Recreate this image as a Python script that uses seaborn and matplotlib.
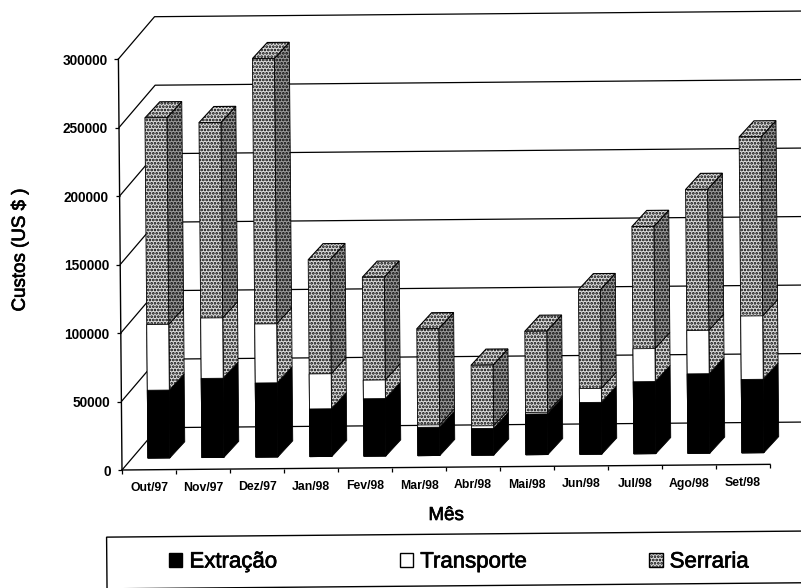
import numpy as np
import pandas as pd
import matplotlib
matplotlib.use("Agg")
import matplotlib.pyplot as plt
import matplotlib.patheffects as pe
from matplotlib.patches import Patch, Rectangle
from matplotlib.transforms import Affine2D
import seaborn as sns

meses = ["Out/97", "Nov/97", "Dez/97", "Jan/98", "Fev/98", "Mar/98",
         "Abr/98", "Mai/98", "Jun/98", "Jul/98", "Ago/98", "Set/98"]
extracao = np.array([49500, 57800, 54100, 34800, 41900, 20700,
                     19500, 29700, 37800, 52600, 58000, 53600])
transporte = np.array([48000, 44100, 43100, 25600, 13600, 1700,
                       1900, 1200, 10200, 24100, 31700, 46300])
serraria = np.array([150800, 142600, 193700, 83300, 75100, 70200,
                     44300, 59200, 72100, 89200, 102900, 130700])
y_ticks = [0, 50000, 100000, 150000, 200000, 250000, 300000]

W, H = 801, 588
sns.set_theme(style="white")
plt.rcParams["font.family"] = ["Liberation Sans", "DejaVu Sans"]
plt.rcParams["hatch.linewidth"] = 1.3
fig = plt.figure(figsize=(W / 100, H / 100), dpi=100, facecolor="white")
ax = fig.add_axes([122 / W, (H - 470) / H, 648 / W, 411 / H])
ax.patch.set_visible(False)

# slight tilt of the scanned page, about the chart origin
rot = Affine2D().rotate_deg_around(122, H - 470, 0.5)
PX_X, PX_Y = 1 / 54, 300000 / 411       # data units per pixel
data_tf = ax.transData + rot
bar_tf = Affine2D().translate(10 * PX_X, 11.7 * PX_Y) + data_tf

# walls
wall_dx, wall_dy = 36.5 * PX_X, 42 * PX_Y
for v in y_ticks:
    ax.plot([-0.5, -0.5 + wall_dx, 13], [v, v + wall_dy, v + wall_dy],
            color="black", lw=0.9, transform=data_tf, clip_on=False, zorder=1)

# stacked front faces, painted back to front from cumulative totals
topo_ext = extracao
topo_tra = extracao + transporte
topo_ser = topo_tra + serraria
df = pd.DataFrame({"Mes": meses, "ext": topo_ext, "tra": topo_tra, "ser": topo_ser})
BW = 22 * PX_X
LIGHT, DARK = "#dcdcdc", "#9a9a9a"
common = dict(data=df, x="Mes", width=BW, saturation=1, ax=ax, zorder=3)
sns.barplot(y="ser", color=LIGHT, edgecolor="black", linewidth=0.6, hatch=".....", **common)
sns.barplot(y="tra", color="white", edgecolor="black", linewidth=0.6, **common)
sns.barplot(y="ext", color="black", edgecolor="black", linewidth=0.6, **common)
for p in ax.patches:
    p.set_transform(bar_tf)
    p.set_clip_on(False)

# side and top faces
dx, dy = 15 * PX_X, 16 * PX_Y
for i in range(len(meses)):
    xr = i + BW / 2
    xl = i - BW / 2
    segs = [(0, topo_ext[i], dict(facecolor="black", edgecolor="black")),
            (topo_ext[i], topo_tra[i], dict(facecolor=LIGHT, edgecolor="black", hatch=".....")),
            (topo_tra[i], topo_ser[i], dict(facecolor=DARK, edgecolor="black", hatch="....."))]
    for lo, hi, st in segs:
        ax.fill([xr, xr + dx, xr + dx, xr], [lo, lo + dy, hi + dy, hi],
                transform=bar_tf, clip_on=False, zorder=2.5, lw=0.6, **st)
    ax.fill([xl, xl + dx, xr + dx, xr],
            [topo_ser[i], topo_ser[i] + dy, topo_ser[i] + dy, topo_ser[i]],
            transform=bar_tf, clip_on=False, zorder=2.5, lw=0.8,
            facecolor=LIGHT, edgecolor="black", hatch=".....")

# axes
ax.set_xlim(-0.5, 11.5)
ax.set_ylim(0, 300000)
ax.set_yticks(y_ticks)
ax.set_yticklabels([str(v) for v in y_ticks])
ax.set_xticks(np.arange(-0.5, 12, 1), minor=True)
ax.tick_params(axis="x", which="major", length=0, pad=9, labelsize=8.8, bottom=True)
ax.tick_params(axis="x", which="minor", length=3.2, width=0.9, color="black", bottom=True)
ax.tick_params(axis="y", which="major", length=3, width=0.9, color="black", pad=5,
               labelsize=9.8, left=True)
for lab in ax.get_xticklabels() + ax.get_yticklabels():
    lab.set_color("black")
    lab.set_fontweight("bold")
for s in ["top", "right"]:
    ax.spines[s].set_visible(False)
for s in ["left", "bottom"]:
    ax.spines[s].set_color("black")
    ax.spines[s].set_linewidth(1.0)
    ax.spines[s].set_transform(ax.spines[s].get_transform() + rot)

heavy = [pe.withStroke(linewidth=0.5, foreground="black")]
ax.set_xlabel("Mês", fontsize=13.5, color="black", path_effects=heavy)
ax.set_ylabel("Custos (US $ )", fontsize=13.5, color="black", path_effects=heavy)
ax.xaxis.set_label_coords(0.5, -0.09)
ax.yaxis.set_label_coords(-0.144, 0.535)

# tilt the tick marks and labels with the page
ticks = ax.xaxis.get_major_ticks() + ax.xaxis.get_minor_ticks() + ax.yaxis.get_major_ticks()
for t in ticks:
    for art in (t.tick1line, t.label1):
        art.set_transform(art.get_transform() + rot)

# legend box runs off the right of the page
fig.add_artist(Rectangle((106, -0.7), 800, 51.7, transform=rot, facecolor="none",
                         edgecolor="black", lw=1.0, clip_on=False))
handles = [Patch(facecolor="black", edgecolor="black", label="Extração"),
           Patch(facecolor="white", edgecolor="black", label="Transporte"),
           Patch(facecolor=LIGHT, edgecolor="black", hatch=".....", label="Serraria")]
leg = fig.legend(handles=handles, ncol=3, frameon=False, fontsize=16,
                 loc="center left", bbox_to_anchor=(169 / W, (H - 562) / H),
                 borderpad=0, borderaxespad=0, handlelength=0.6, handleheight=0.6,
                 handletextpad=0.32, columnspacing=5.5, labelcolor="black")
for txt in leg.get_texts():
    txt.set_path_effects(heavy)

fig.savefig("out.png", dpi=100)
